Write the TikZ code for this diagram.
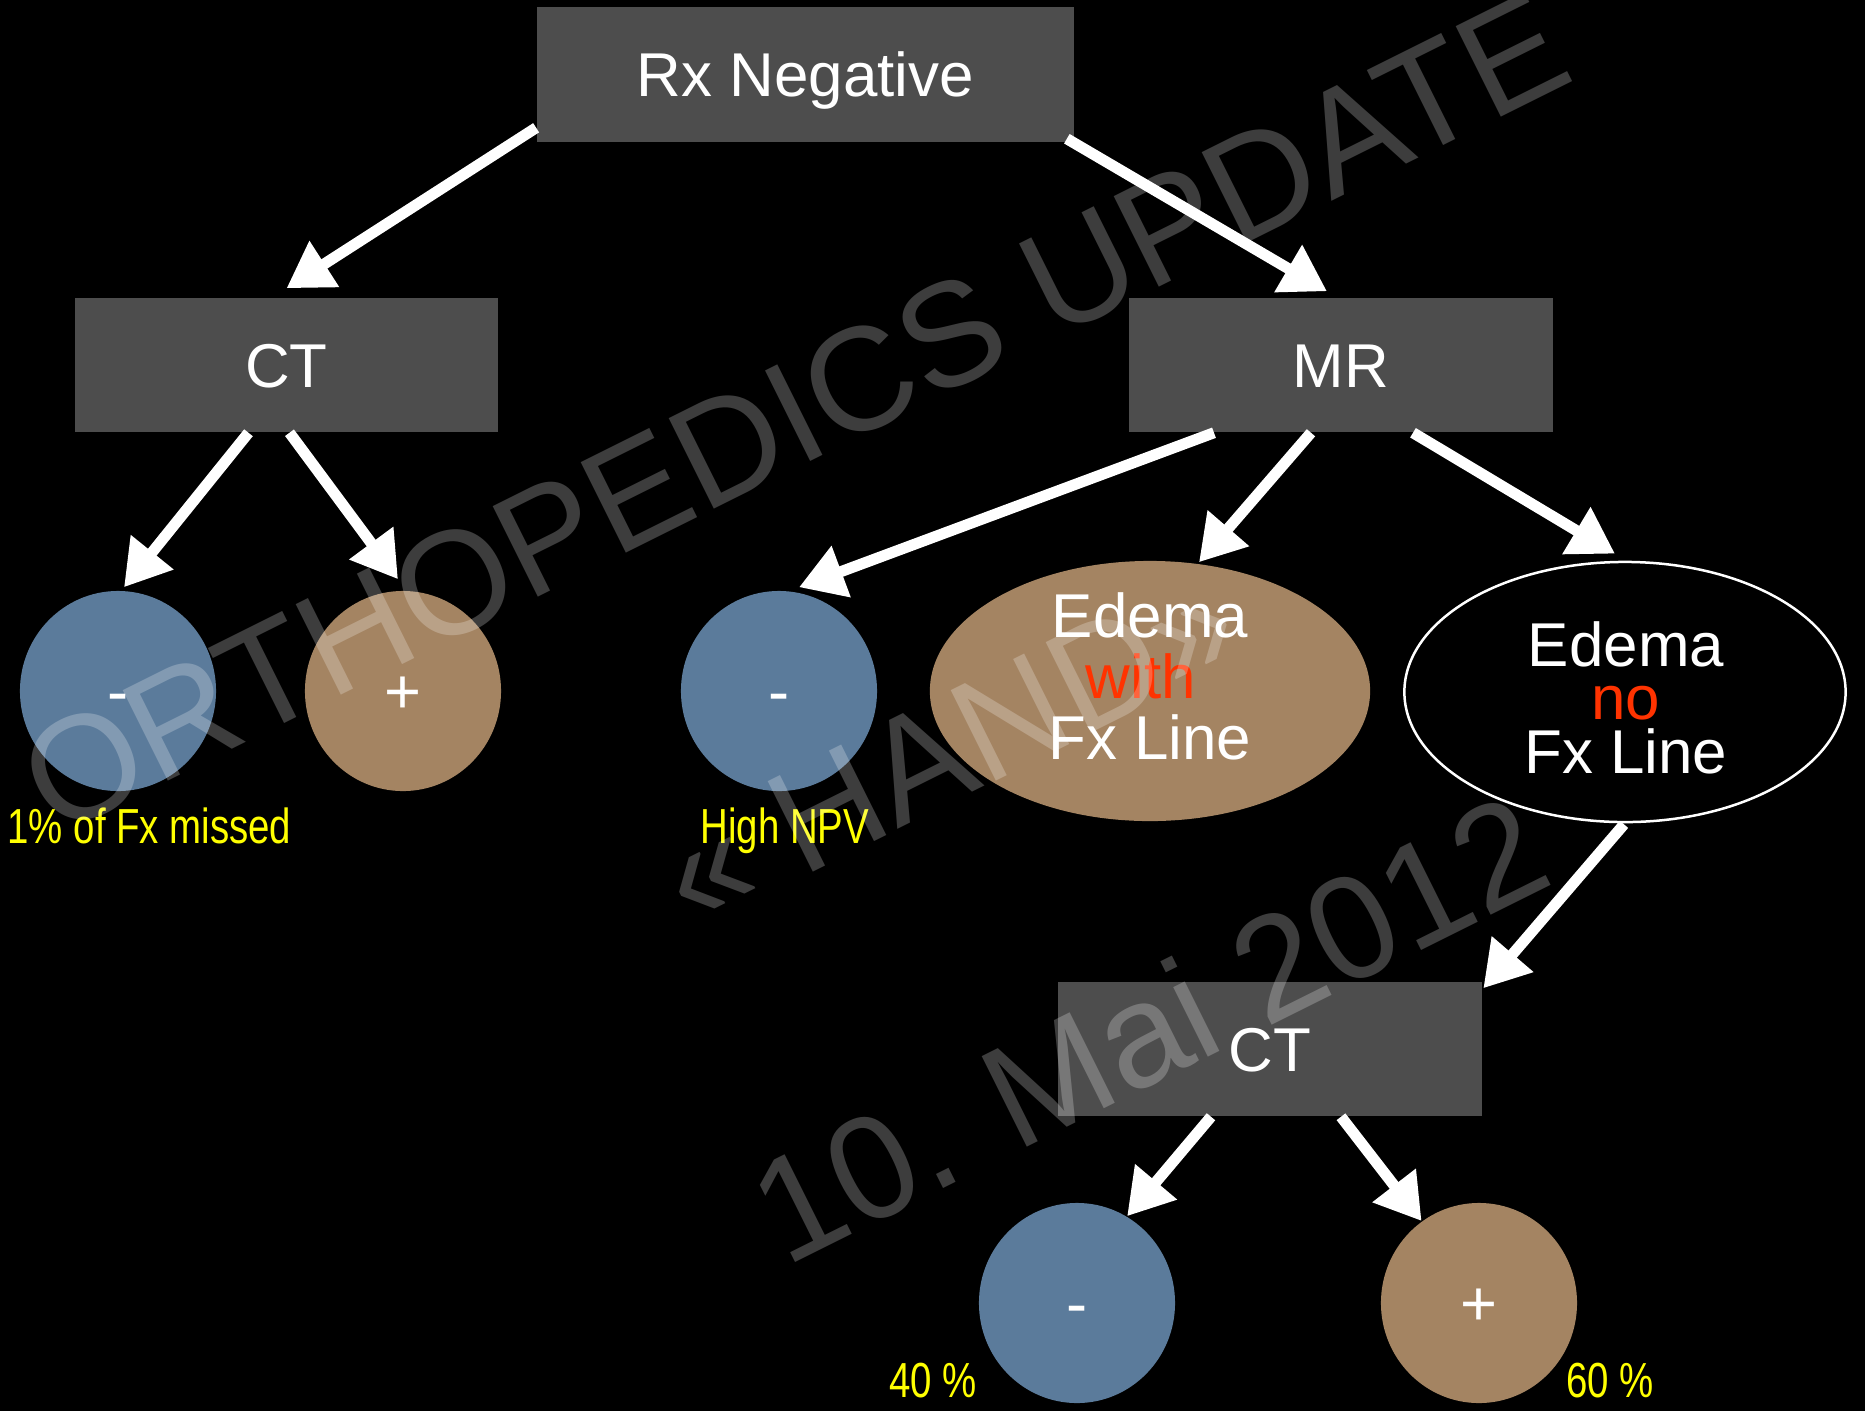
\documentclass[tikz,border=0pt]{standalone}
\usepackage{fontspec}
\setmainfont{Liberation Sans}
\usetikzlibrary{arrows.meta,shapes.geometric,calc}
\definecolor{boxgray}{HTML}{4D4D4D}
\definecolor{blueC}{HTML}{5B7B9B}
\definecolor{brownC}{HTML}{A48462}
\definecolor{redT}{HTML}{FF3300}
\definecolor{yellowT}{HTML}{FFFF00}
\begin{document}
\begin{tikzpicture}[x=0.01cm,y=-0.01cm,
  box/.style={fill=boxgray, text=white, minimum width=4.23cm, minimum height=1.34cm,
    inner sep=0, text height=0.444cm, text depth=0pt, font=\fontsize{17.6}{20}\selectfont},
  blob/.style={ellipse, minimum width=1.96cm, minimum height=2cm, inner sep=0, text=white,
    text height=0.444cm, text depth=0pt, font=\fontsize{18}{20}\selectfont},
  negc/.style={blob, fill=blueC},
  posc/.style={blob, fill=brownC},
  bigell/.style={ellipse, minimum width=4.4cm, minimum height=2.6cm, inner sep=0},
  txtline/.style={text=white, font=\fontsize{17.6}{20}\selectfont, anchor=base, inner sep=0},
  note/.style={text=yellowT, font=\fontsize{14}{16}\selectfont, xscale=0.78, inner sep=0, anchor=base west},
  arr/.style={draw=white, line width=0.11cm, -{Triangle[length=0.45cm, width=0.52cm]}},
  wm/.style={text=white, text opacity=0.24, font=\fontsize{41.8}{44}\selectfont, rotate=26.5, inner sep=0}]

\fill[black] (0,0) rectangle (1865,1411);
\useasboundingbox (0,0) rectangle (1865,1411);

% boxes
\node[box, minimum width=5.37cm, minimum height=1.35cm] (rx) at (805.5,74.5) {Rx Negative};
\node[box] (ct) at (286.5,365) {CT};
\node[box] (mr) at (1341,365) {MR};
\node[box] (ct2) at (1270,1049) {CT};

% circles
\node[negc] (cm) at (118,691) {-};
\node[posc] (cp) at (403,691) {+};
\node[negc] (mm) at (779,691) {-};
\node[negc] (bm) at (1077,1303) {-};
\node[posc] (bp) at (1479,1303) {+};

% ellipses
\node[bigell, fill=brownC] (ew) at (1150,691) {};
\node[bigell, fill=black, draw=white, line width=0.025cm, minimum width=4.41cm, minimum height=2.6cm] (en) at (1625,692) {};
\node[txtline] (ew1) at (1150,637) {Edema};
\node[txtline, text=redT] (ew2) at (1141,698) {with};
\node[txtline] (ew3) at (1150,759) {Fx Line};
\node[txtline] (en1) at (1626,666) {Edema};
\node[txtline, text=redT] (en2) at (1626,719) {no};
\node[txtline] (en3) at (1626,773) {Fx Line};

% notes
\node[note] (n1) at (7,843) {1\% of Fx missed};
\node[note] (n2) at (700,843) {High NPV};
\node[note] (n3) at (889,1397) {40 \%};
\node[note] (n4) at (1566,1397) {60 \%};

% arrows
\draw[arr] ($(rx.south west)+(0,-15)$) -- ($(ct.north)+(0,-9)$);
\draw[arr] ($(rx.south east)+(-8,-4)$) -- ($(mr.north)+(-14,-6)$);
\draw[arr] ($(ct.south)+(-38,0)$) -- ($(cm.north)+(6,-3)$);
\draw[arr] ($(ct.south)+(3,0)$) -- ($(cp.north)+(-5,-11)$);
\draw[arr] ($(mr.south)+(-127,0)$) -- ($(mm.north)+(20,-3)$);
\draw[arr] ($(mr.south)+(-30,0)$) -- ($(ew.north)+(49,2)$);
\draw[arr] ($(mr.south)+(72,0)$) -- ($(en.north)+(-10,-7)$);
\draw[arr] ($(en.south)+(-1,1)$) -- ($(ct2.north east)+(1,7)$);
\draw[arr] ($(ct2.south)+(-59,0)$) -- (bm.60);
\draw[arr] ($(ct2.south)+(71,0)$) -- (bp.125);

% watermark
\node[wm] (wm1) at (794,413) {ORTHOPEDICS UPDATE};
\node[wm] (wm2) at (948,748) {« HAND»};
\node[wm] (wm3) at (1148,1028) {10. Mai 2012};
\end{tikzpicture}
\end{document}
